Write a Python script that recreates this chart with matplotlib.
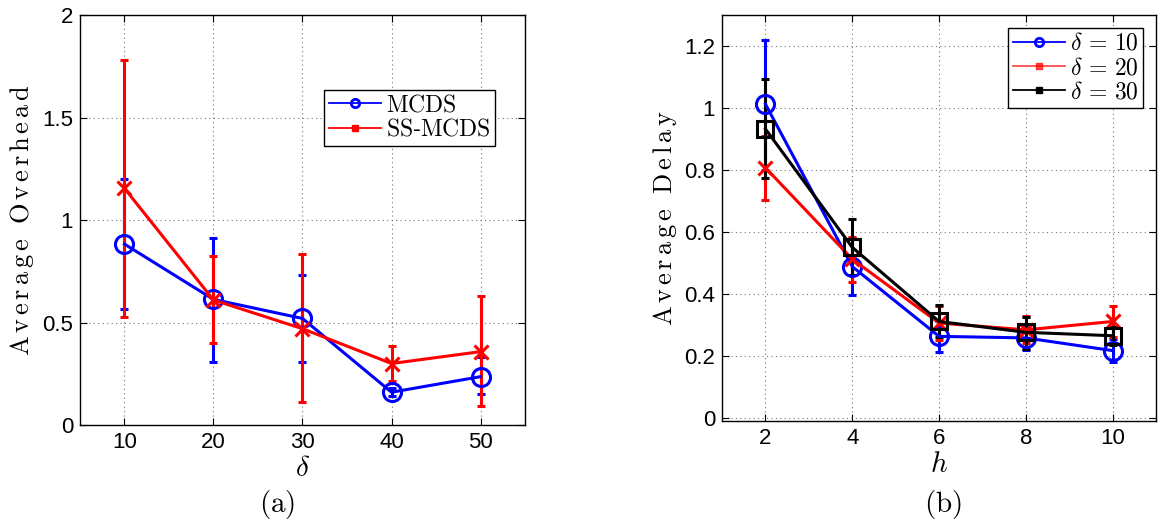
import numpy as np
import matplotlib
matplotlib.use("Agg")
import matplotlib.pyplot as plt
from matplotlib.lines import Line2D

plt.rcParams['mathtext.fontset'] = 'cm'
plt.rcParams['font.family'] = ['Liberation Sans', 'DejaVu Sans']

# (a) Average overhead vs delta
delta = [10, 20, 30, 40, 50]
mcds = [0.883, 0.613, 0.52, 0.16, 0.236]
mcds_lo = [0.565, 0.306, 0.306, 0.14, 0.15]
mcds_hi = [1.20, 0.914, 0.73, 0.18, 0.333]
ss = [1.155, 0.61, 0.47, 0.30, 0.358]
ss_lo = [0.525, 0.40, 0.11, 0.215, 0.093]
ss_hi = [1.78, 0.824, 0.837, 0.385, 0.63]

# (b) Average delay vs h
h = [2, 4, 6, 8, 10]
d10 = [1.012, 0.488, 0.263, 0.258, 0.217]
d10_lo = [0.80, 0.396, 0.213, 0.218, 0.18]
d10_hi = [1.22, 0.58, 0.313, 0.298, 0.254]
d20 = [0.807, 0.512, 0.306, 0.284, 0.311]
d20_lo = [0.703, 0.437, 0.25, 0.24, 0.262]
d20_hi = [0.91, 0.582, 0.36, 0.33, 0.36]
d30 = [0.932, 0.55, 0.311, 0.276, 0.265]
d30_lo = [0.773, 0.46, 0.26, 0.222, 0.236]
d30_hi = [1.092, 0.641, 0.365, 0.327, 0.292]


def err(y, lo, hi):
    y = np.array(y)
    return [y - np.array(lo), np.array(hi) - y]


def style(ax):
    ax.grid(True, linestyle=(0, (1, 3)), color='0.45', linewidth=0.8)
    ax.tick_params(direction='in', top=True, right=True, labelsize=16, length=5, pad=5)
    for s in ax.spines.values():
        s.set_linewidth(1.0)


fig = plt.figure(figsize=(11.59, 5.2), dpi=100)

ax1 = fig.add_axes([0.069, 0.1827, 0.384, 0.788])
ax1.errorbar(delta, mcds, yerr=err(mcds, mcds_lo, mcds_hi), color='b', lw=2.2,
             marker='o', ms=13, mfc='none', mew=2.2, capsize=3, elinewidth=2.2, capthick=2.2)
ax1.errorbar(delta, ss, yerr=err(ss, ss_lo, ss_hi), color='r', lw=2.2,
             marker='x', ms=10, mew=2.2, capsize=3, elinewidth=2.2, capthick=2.2)
ax1.set_xlim(5, 55)
ax1.set_ylim(0, 2)
ax1.set_xticks(delta)
ax1.set_yticks([0, 0.5, 1, 1.5, 2])
ax1.set_yticklabels(['0', '0.5', '1', '1.5', '2'])
style(ax1)
ax1.set_xlabel(r'$\delta$', fontsize=21, labelpad=1)
ax1.set_ylabel(r'$\mathrm{A\,v\,e\,r\,a\,g\,e\ \ O\,v\,e\,r\,h\,e\,a\,d}$', fontsize=19)
h1 = [Line2D([], [], color='b', lw=1.3, marker='o', ms=6, mfc='none', mew=2),
      Line2D([], [], color='r', lw=1.3, marker='s', ms=4, mfc='r', mew=1)]
ax1.legend(h1, [r'$\mathrm{MCDS}$', r'$\mathrm{SS}$-$\mathrm{MCDS}$'],
           loc='upper right', bbox_to_anchor=(0.933, 0.818), fontsize=17,
           fancybox=False, edgecolor='k', framealpha=1, handlelength=2.2,
           handletextpad=0.2, borderpad=0.2, labelspacing=0.1, borderaxespad=0)

ax2 = fig.add_axes([0.623, 0.1904, 0.3745, 0.781])
ax2.errorbar(h, d10, yerr=err(d10, d10_lo, d10_hi), color='b', lw=2.2,
             marker='o', ms=13, mfc='none', mew=2.2, capsize=3, elinewidth=2.2, capthick=2.2)
ax2.errorbar(h, d20, yerr=err(d20, d20_lo, d20_hi), color='r', lw=2.2,
             marker='x', ms=10, mew=2.2, capsize=3, elinewidth=2.2, capthick=2.2)
ax2.errorbar(h, d30, yerr=err(d30, d30_lo, d30_hi), color='k', lw=2.2,
             marker='s', ms=11, mfc='none', mew=2.2, capsize=3, elinewidth=2.2, capthick=2.2)
ax2.set_xlim(1, 11)
ax2.set_ylim(-0.01, 1.3)
ax2.set_xticks(h)
ax2.set_yticks([0, 0.2, 0.4, 0.6, 0.8, 1, 1.2])
ax2.set_yticklabels(['0', '0.2', '0.4', '0.6', '0.8', '1', '1.2'])
style(ax2)
ax2.set_xlabel(r'$h$', fontsize=21, labelpad=1)
ax2.set_ylabel(r'$\mathrm{A\,v\,e\,r\,a\,g\,e\ \ D\,e\,l\,a\,y}$', fontsize=19)
h2 = [Line2D([], [], color='b', lw=1.3, marker='o', ms=6, mfc='none', mew=2),
      Line2D([], [], color='r', lw=1.3, alpha=0.7, marker='s', ms=4, mfc='r', mew=1),
      Line2D([], [], color='k', lw=1.3, marker='s', ms=5, mfc='k', mew=1)]
ax2.legend(h2, [r'$\delta\,=\,10$', r'$\delta\,=\,20$', r'$\delta\,=\,30$'],
           loc='upper right', bbox_to_anchor=(0.97, 0.967), fontsize=17,
           fancybox=False, edgecolor='k', framealpha=1, handlelength=2.2,
           handletextpad=0.2, borderpad=0.2, labelspacing=0.1, borderaxespad=0)

fig.text(0.239, 0.029, r'$\mathrm{(a)}$', fontsize=21, ha='center', va='center')
fig.text(0.814, 0.029, r'$\mathrm{(b)}$', fontsize=21, ha='center', va='center')

fig.savefig('out.png', dpi=100)
